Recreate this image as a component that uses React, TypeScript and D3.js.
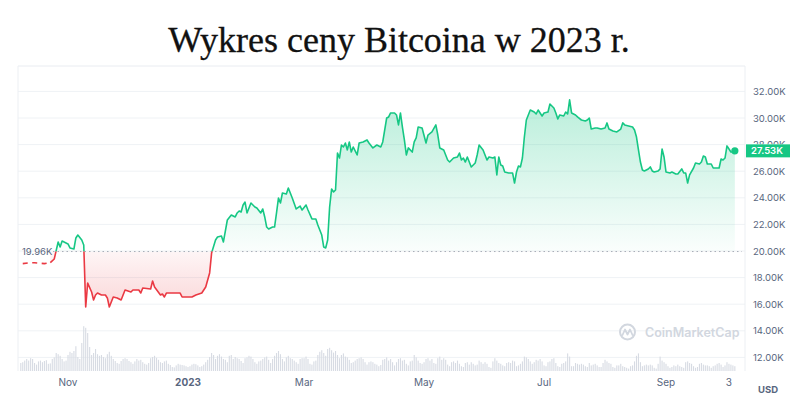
import React from 'react';
import * as d3 from 'd3';

const priceDates = [
  '2022-10-09','2022-10-12','2022-10-15','2022-10-20','2022-10-23','2022-10-25','2022-10-27','2022-10-28','2022-10-29',
  '2022-11-01','2022-11-02','2022-11-04','2022-11-05','2022-11-06','2022-11-08','2022-11-09','2022-11-10','2022-11-11',
  '2022-11-13','2022-11-14','2022-11-15','2022-11-16','2022-11-18','2022-11-20','2022-11-21','2022-11-22','2022-11-24',
  '2022-11-26','2022-11-28','2022-11-30',
  '2022-12-03','2022-12-04','2022-12-07','2022-12-08','2022-12-09','2022-12-13','2022-12-14','2022-12-15','2022-12-18',
  '2022-12-19','2022-12-20','2022-12-21','2022-12-25','2022-12-28','2022-12-29',
  '2023-01-03','2023-01-05','2023-01-08','2023-01-10','2023-01-12','2023-01-13','2023-01-15','2023-01-16','2023-01-18',
  '2023-01-19','2023-01-21','2023-01-23','2023-01-25','2023-01-26','2023-01-27','2023-01-28','2023-01-29','2023-01-30',
  '2023-01-31',
  '2023-02-02','2023-02-04','2023-02-05','2023-02-07','2023-02-08','2023-02-09','2023-02-10','2023-02-11','2023-02-13',
  '2023-02-14','2023-02-15','2023-02-16','2023-02-17','2023-02-18','2023-02-20','2023-02-21','2023-02-22','2023-02-23',
  '2023-02-25','2023-02-27','2023-02-28',
  '2023-03-02','2023-03-03','2023-03-05','2023-03-07','2023-03-08','2023-03-10','2023-03-11','2023-03-12','2023-03-13',
  '2023-03-14','2023-03-15','2023-03-16','2023-03-17','2023-03-18','2023-03-19','2023-03-20','2023-03-21','2023-03-22',
  '2023-03-23','2023-03-24','2023-03-25','2023-03-26','2023-03-28','2023-03-29','2023-03-31',
  '2023-04-02','2023-04-03','2023-04-05','2023-04-07','2023-04-09','2023-04-10','2023-04-12','2023-04-13','2023-04-14',
  '2023-04-16','2023-04-17','2023-04-18','2023-04-19','2023-04-20','2023-04-21','2023-04-22','2023-04-23','2023-04-25',
  '2023-04-26','2023-04-27','2023-04-28','2023-04-30',
  '2023-05-02','2023-05-03','2023-05-05','2023-05-07','2023-05-08','2023-05-09','2023-05-11','2023-05-13','2023-05-14',
  '2023-05-16','2023-05-18','2023-05-19','2023-05-20','2023-05-21','2023-05-22','2023-05-23','2023-05-25','2023-05-27',
  '2023-05-28','2023-05-29','2023-05-31',
  '2023-06-02','2023-06-03','2023-06-05','2023-06-06','2023-06-07','2023-06-08','2023-06-09','2023-06-10','2023-06-11',
  '2023-06-13','2023-06-15','2023-06-16','2023-06-17','2023-06-18','2023-06-19','2023-06-20','2023-06-21','2023-06-22',
  '2023-06-24','2023-06-26','2023-06-27','2023-06-28','2023-06-30',
  '2023-07-01','2023-07-03','2023-07-04','2023-07-06','2023-07-07','2023-07-08','2023-07-09','2023-07-11','2023-07-12',
  '2023-07-13','2023-07-14','2023-07-15','2023-07-17','2023-07-18','2023-07-20','2023-07-22','2023-07-23','2023-07-24',
  '2023-07-25','2023-07-27','2023-07-28','2023-07-30',
  '2023-08-01','2023-08-02','2023-08-03','2023-08-05','2023-08-07','2023-08-09','2023-08-10','2023-08-11','2023-08-13',
  '2023-08-15','2023-08-16','2023-08-17','2023-08-18','2023-08-19','2023-08-20','2023-08-21','2023-08-23','2023-08-24',
  '2023-08-25','2023-08-26','2023-08-28','2023-08-29','2023-08-30','2023-08-31',
  '2023-09-01','2023-09-03','2023-09-04','2023-09-06','2023-09-07','2023-09-09','2023-09-10','2023-09-11','2023-09-12',
  '2023-09-13','2023-09-15','2023-09-16','2023-09-18','2023-09-19','2023-09-20','2023-09-21','2023-09-22','2023-09-24',
  '2023-09-25','2023-09-28','2023-09-29','2023-09-30',
  '2023-10-01','2023-10-02','2023-10-04','2023-10-05','2023-10-06',
];

// prices in thousands of USD
const priceValues = [
  19.05,19.10,19.12,19.05,19.12,19.40,20.68,20.30,20.75,
  20.53,20.23,20.15,20.98,21.20,20.83,20.45,15.79,17.59,
  16.92,16.32,16.69,16.84,16.69,16.69,16.47,15.79,16.54,
  16.47,16.32,17.07,
  16.92,17.07,17.07,16.84,17.22,17.14,17.74,17.29,16.69,
  16.77,16.54,16.84,16.84,16.84,16.54,
  16.54,16.69,16.84,17.29,18.35,19.85,20.83,21.05,21.13,
  20.68,22.33,22.71,22.56,22.86,23.01,22.93,23.46,23.68,
  22.86,
  23.61,23.31,23.23,22.86,23.16,22.56,21.80,21.65,21.80,
  21.80,22.86,23.99,23.61,24.36,24.29,24.74,24.36,23.99,
  23.16,23.38,23.08,
  23.46,23.08,22.41,22.41,21.96,21.20,20.30,20.23,20.83,
  23.31,24.66,24.44,24.59,27.37,26.99,27.97,27.82,28.12,
  27.60,28.20,27.44,27.82,27.22,28.12,28.20,
  28.35,28.12,27.75,27.97,27.82,28.20,30.00,30.08,30.38,
  30.38,30.23,29.48,30.38,29.32,28.35,27.22,27.75,27.44,
  28.20,28.50,29.32,29.25,
  28.12,28.72,28.95,29.48,28.72,27.75,27.60,26.84,26.69,
  26.99,27.07,27.37,26.84,26.99,26.69,27.07,26.32,26.62,
  27.22,27.97,27.60,
  26.84,27.07,26.99,27.07,25.72,27.07,26.47,26.39,25.94,
  25.87,25.87,25.11,25.94,26.39,26.32,26.99,28.57,29.85,
  30.60,30.45,30.30,30.60,30.15,
  30.38,30.45,31.05,30.75,30.38,29.93,30.23,30.15,30.45,
  30.30,31.36,30.38,30.23,30.08,29.85,29.78,29.85,30.00,
  29.17,29.25,29.25,29.17,
  29.25,29.63,29.17,29.02,28.95,29.17,29.63,29.48,29.40,
  29.32,29.10,28.57,27.60,26.69,26.09,26.02,26.17,26.32,
  26.02,25.94,26.02,26.17,27.67,27.07,
  25.94,25.87,25.94,25.79,25.79,26.17,25.87,25.87,25.11,
  25.72,26.24,26.62,26.54,26.69,27.14,27.07,26.54,26.54,
  26.24,26.24,26.92,26.84,
  26.99,27.90,27.44,27.44,27.53,
];

// daily trading volume, billions USD, starting 2022-10-08
const volumeStart = '2022-10-08';
const volumeValues = [
  20,22,26,30,26,32,30,20,16,24,26,22,25,27,18,19,30,34,45,42,38,30,24,26,
  40,48,45,50,62,35,30,70,112,108,95,60,40,45,55,42,38,40,35,32,42,48,38,30,25,20,18,25,30,32,
  30,25,22,18,24,30,26,28,22,18,16,20,32,35,38,33,28,22,20,24,26,18,15,10,9,14,18,16,15,14,12,
  10,12,16,18,17,14,10,12,16,22,28,35,45,40,30,38,42,36,30,28,22,38,40,30,35,32,30,25,20,32,34,
  38,36,30,22,18,24,26,30,34,36,28,20,30,38,45,50,42,30,24,34,38,32,30,26,22,18,30,32,
  32,36,30,18,16,24,26,40,48,52,45,38,55,58,52,46,50,40,32,40,44,36,34,28,20,22,26,30,32,34,30,
  22,16,22,24,22,18,16,12,15,28,30,34,26,30,22,14,22,30,32,26,28,18,14,24,26,40,34,26,20,18,
  22,30,32,26,30,20,18,32,36,28,32,28,16,12,22,24,20,26,18,12,10,20,22,16,22,18,14,16,26,22,18,
  22,18,10,8,24,32,26,20,18,14,12,20,22,20,26,24,12,14,18,24,36,34,30,24,18,22,28,26,30,24,
  14,12,22,24,30,32,20,12,10,18,20,24,44,36,12,12,20,18,16,18,16,12,10,20,14,16,18,14,10,10,20,
  28,24,20,18,10,8,14,14,18,12,10,8,6,12,14,24,38,44,22,12,14,16,14,16,14,8,6,18,36,26,22,
  18,12,8,10,14,12,16,12,10,8,22,24,20,18,12,8,10,18,20,16,14,14,12,8,12,14,18,20,16,10,
  14,22,18,16,14,12,
];

const yTickValues = [12, 14, 16, 18, 20, 22, 24, 26, 28, 30, 32];
const xTickDates = ['2022-11-01', '2023-01-01', '2023-03-01', '2023-05-01', '2023-07-01', '2023-09-01', '2023-10-03'];
const xTickLabels = ['Nov', '2023', 'Mar', 'May', 'Jul', 'Sep', '3'];
const xTickBold = [false, true, false, false, false, false, false];
const baselineValue = 19.96;
const lastPrice = 27.53;
const dashedUntil = '2022-10-23';

const title = 'Wykres ceny Bitcoina w 2023 r.';

const GREEN = '#16c784';
const RED = '#ea3943';
const AXIS = '#58667e';
const GRID = '#eff2f5';
const FONT = "Inter, 'Noto Sans', sans-serif";

export default function App() {
  const parse = d3.timeParse('%Y-%m-%d');
  const data = priceDates.map((d, i) => ({ date: parse(d) as Date, v: priceValues[i] }));
  const last = data[data.length - 1].date;

  const x = d3.scaleTime()
    .domain([parse('2023-01-01') as Date, parse('2023-09-01') as Date])
    .range([188, 666]);
  const y = d3.scaleLinear().domain([12, 32]).range([357.4, 91.4]);
  const volH = d3.scaleLinear().domain([0, 120]).range([0, 48]);

  const baseY = y(baselineValue);
  const plotLeft = 18;
  const plotRight = 745;
  const plotTop = 66;
  const volBase = 371;

  const dashEnd = parse(dashedUntil) as Date;
  const dashedData = data.filter((d) => d.date <= dashEnd);
  const mainData = data.filter((d) => d.date >= dashEnd);

  const line = d3.line<{ date: Date; v: number }>().x((d) => x(d.date)).y((d) => y(d.v));
  const area = d3.area<{ date: Date; v: number }>().x((d) => x(d.date)).y0(baseY).y1((d) => y(d.v));

  const vStart = parse(volumeStart) as Date;
  const bars = volumeValues.map((v, i) => ({ date: d3.timeDay.offset(vStart, i), v }));

  const lastY = y(lastPrice);

  return (
    <svg width={800} height={400} style={{ position: 'absolute', left: 0, top: 0, background: '#fff' }}>
      <defs>
        <linearGradient id="gGreen" gradientUnits="userSpaceOnUse" x1="0" y1={y(31.5)} x2="0" y2={baseY}>
          <stop offset="0" stopColor={GREEN} stopOpacity={0.3} />
          <stop offset="1" stopColor={GREEN} stopOpacity={0.02} />
        </linearGradient>
        <linearGradient id="gRed" gradientUnits="userSpaceOnUse" x1="0" y1={baseY} x2="0" y2={y(15.8)}>
          <stop offset="0" stopColor={RED} stopOpacity={0.05} />
          <stop offset="1" stopColor={RED} stopOpacity={0.2} />
        </linearGradient>
        <clipPath id="above">
          <rect x={0} y={0} width={800} height={baseY} />
        </clipPath>
        <clipPath id="below">
          <rect x={0} y={baseY} width={800} height={400 - baseY} />
        </clipPath>
        <clipPath id="tickAboveBox">
          <rect x={740} y={0} width={60} height={lastY - 6.5} />
        </clipPath>
      </defs>

      <text x={399} y={52} textAnchor="middle" fontFamily="'Liberation Serif', serif" fontSize={36} fill="#111" stroke="#111" strokeWidth={0.3}>
        {title}
      </text>

      {/* grid */}
      {yTickValues.map((t) => (
        <line key={t} x1={plotLeft} x2={plotRight} y1={y(t)} y2={y(t)} stroke={GRID} strokeWidth={1} />
      ))}
      <line x1={plotLeft} x2={plotRight} y1={plotTop} y2={plotTop} stroke="#e9ecf1" strokeWidth={1} />
      <line x1={plotLeft} x2={plotLeft} y1={plotTop} y2={volBase} stroke="#eceff3" strokeWidth={1} />
      <line x1={plotRight} x2={plotRight} y1={plotTop} y2={volBase} stroke="#eceff3" strokeWidth={1} />

      {/* volume */}
      {bars.map((b, i) => (
        <rect key={i} x={x(b.date) - 0.55} width={1.1} y={volBase - volH(b.v)} height={volH(b.v)} fill="#d7dbe3" />
      ))}

      {/* watermark */}
      <g>
        <circle cx={627.5} cy={332} r={7.5} fill="none" stroke="#d2d7df" strokeWidth={2} />
        <path d="M622.5,335 L625,329.5 L627.5,334.5 L630,329.5 L632.5,335" fill="none" stroke="#d2d7df" strokeWidth={1.8} strokeLinejoin="round" strokeLinecap="round" />
        <text x={645} y={337} fontFamily={FONT} fontSize={12.5} fontWeight={600} fill="#d2d7df">
          CoinMarketCap
        </text>
      </g>

      {/* areas */}
      <path d={area(mainData) || ''} fill="url(#gGreen)" clipPath="url(#above)" />
      <path d={area(mainData) || ''} fill="url(#gRed)" clipPath="url(#below)" />

      {/* baseline */}
      <line x1={53} x2={742} y1={baseY} y2={baseY} stroke="#a7adb7" strokeWidth={1} strokeDasharray="1.5 3" />
      <text x={22} y={baseY + 3.5} fontFamily={FONT} fontSize={9.5} fill={AXIS}>
        {baselineValue.toFixed(2)}K
      </text>

      {/* lines */}
      <path d={line(dashedData) || ''} fill="none" stroke={RED} strokeWidth={1.6} strokeDasharray="5 4.5" />
      <path d={line(mainData) || ''} fill="none" stroke={GREEN} strokeWidth={1.6} strokeLinejoin="round" clipPath="url(#above)" />
      <path d={line(mainData) || ''} fill="none" stroke={RED} strokeWidth={1.6} strokeLinejoin="round" clipPath="url(#below)" />
      <circle cx={x(last)} cy={lastY} r={3.6} fill={GREEN} />

      {/* right axis */}
      {yTickValues.map((t) => (
        <text key={t} x={753} y={y(t) + 3.5} fontFamily={FONT} fontSize={9.5} fill={AXIS}
          clipPath={Math.abs(y(t) - lastY) < 10 ? 'url(#tickAboveBox)' : undefined}>
          {t.toFixed(2)}K
        </text>
      ))}
      <rect x={746} y={lastY - 6.5} width={44} height={13} fill={GREEN} />
      <text x={751} y={lastY + 3.5} fontFamily={FONT} fontSize={9.5} fontWeight={600} fill="#fff">
        {lastPrice.toFixed(2)}K
      </text>
      <text x={768} y={393} fontFamily={FONT} fontSize={9.5} fontWeight={700} fill={AXIS} textAnchor="middle">
        USD
      </text>

      {/* x axis */}
      {xTickDates.map((d, i) => (
        <text key={d} x={x(parse(d) as Date)} y={386} textAnchor="middle" fontFamily={FONT} fontSize={10} fontWeight={xTickBold[i] ? 700 : 400} fill={AXIS}>
          {xTickLabels[i]}
        </text>
      ))}
    </svg>
  );
}
